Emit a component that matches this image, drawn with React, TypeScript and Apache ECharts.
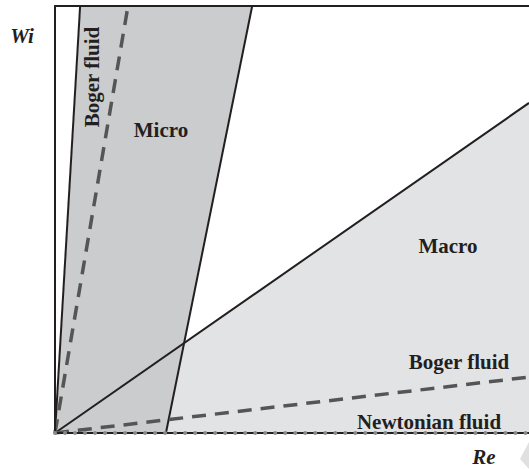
import React, { useEffect, useRef } from "react";
import * as echarts from "echarts";

// Schematic Re–Wi diagram (arbitrary units 0..100 on both axes)
const microRegion: number[][] = [[0, 0], [5.3, 100], [41.6, 100], [23.4, 0]];
const microLeftEdge: number[][] = [[0, 0], [5.3, 100]];
const microRightEdge: number[][] = [[23.4, 0], [41.6, 100]];
const macroBoundary: number[][] = [[0, 0], [100, 77.3]];
const bogerSteep: number[][] = [[0, 0], [15.4, 100]];
const bogerShallow: number[][] = [[0, 0], [100, 13.1]];
const newtonian: number[][] = [[0, 0], [100, 0]];

const FONT = "'Liberation Serif', 'Times New Roman', serif";
const INK = "#231f20";

export default function App() {
  const ref = useRef<HTMLDivElement>(null);
  useEffect(() => {
    if (!ref.current) return;
    const chart = echarts.init(ref.current, undefined, { renderer: "svg" });
    const axisBase = {
      type: "value" as const,
      min: 0,
      max: 100,
      axisTick: { show: false },
      axisLabel: { show: false },
      splitLine: { show: false },
      axisLine: { show: true, lineStyle: { color: INK, width: 2 } },
      z: 10,
    };
    const lineBase = {
      type: "line" as const,
      symbol: "none",
      silent: true,
    };
    const labelStyle = (text: string, x: number, y: number, extra: any = {}) => ({
      type: "text",
      x,
      y,
      z: 20,
      ...extra,
      style: {
        text,
        fill: INK,
        font: `bold 21px ${FONT}`,
        align: "center",
        verticalAlign: "middle",
        ...(extra.style || {}),
      },
    });
    chart.setOption({
      animation: false,
      backgroundColor: "#ffffff",
      grid: { left: 55, right: 0, top: 6, bottom: 36 },
      xAxis: [
        { ...axisBase, position: "bottom" },
        { ...axisBase, position: "top" },
      ],
      yAxis: [{ ...axisBase }],
      series: [
        {
          ...lineBase,
          data: macroBoundary,
          lineStyle: { width: 0, opacity: 0 },
          areaStyle: { color: "#e2e3e5", opacity: 1 },
          z: 1,
        },
        {
          type: "custom",
          silent: true,
          z: 2,
          data: [[0, 0]],
          renderItem: (_params: any, api: any) => ({
            type: "polygon",
            shape: { points: microRegion.map((p) => api.coord(p)) },
            style: { fill: "#cbcccd" },
          }),
        },
        { ...lineBase, data: microLeftEdge, lineStyle: { color: INK, width: 2 }, z: 3 },
        { ...lineBase, data: microRightEdge, lineStyle: { color: INK, width: 2 }, z: 3 },
        { ...lineBase, data: macroBoundary, lineStyle: { color: INK, width: 2 }, z: 3 },
        {
          ...lineBase,
          data: bogerSteep,
          lineStyle: { color: "#555555", width: 3.5, type: [14, 9] },
          z: 4,
        },
        {
          ...lineBase,
          data: bogerShallow,
          lineStyle: { color: "#555555", width: 3.5, type: [14, 9] },
          z: 4,
        },
        {
          ...lineBase,
          data: newtonian,
          lineStyle: { color: "#8a8a8a", width: 4, type: [0.01, 10], cap: "round" },
          z: 11,
        },
      ],
      graphic: [
        {
          type: "text",
          x: 22,
          y: 36,
          z: 20,
          style: {
            text: "Wi",
            fill: INK,
            font: `italic bold 21px ${FONT}`,
            align: "center",
            verticalAlign: "middle",
          },
        },
        {
          type: "text",
          x: 484,
          y: 457,
          z: 20,
          style: {
            text: "Re",
            fill: INK,
            font: `italic bold 21px ${FONT}`,
            align: "center",
            verticalAlign: "middle",
          },
        },
        labelStyle("Boger fluid", 92, 77, { rotation: Math.PI / 2 }),
        labelStyle("Micro", 161, 130),
        labelStyle("Macro", 448, 246),
        labelStyle("Boger fluid", 459, 362),
        labelStyle("Newtonian fluid", 429, 422),
        {
          type: "polygon",
          z: 5,
          shape: { points: [[529, 442], [520, 459], [529, 469]] },
          style: { fill: "#e0e0e0" },
        },
      ],
    });
    return () => chart.dispose();
  }, []);
  return (
    <div
      ref={ref}
      style={{ position: "fixed", left: 0, top: 0, width: 529, height: 469 }}
    />
  );
}
